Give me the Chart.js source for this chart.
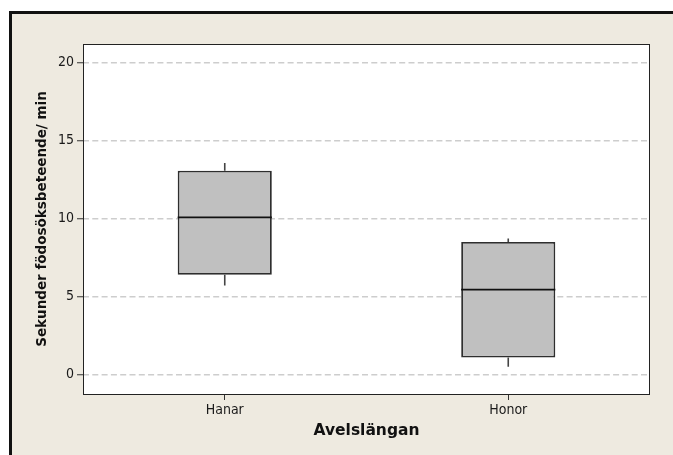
<!DOCTYPE html>
<html>
<head>
<meta charset="utf-8">
<script src="https://cdn.jsdelivr.net/npm/chart.js@4/dist/chart.umd.min.js"></script>
<style>
  html, body { margin: 0; padding: 0; background: #fff; }
  #wrap { width: 673px; height: 455px; }
</style>
</head>
<body>
<div id="wrap"><canvas id="boxChart" width="673" height="455"></canvas></div>
<script>
var categories = ['Hanar', 'Honor'];
var whiskerLow = [5.7, 0.5];
var q1 = [6.4, 1.1];
var median = [10.07, 5.44];
var q3 = [13.06, 8.5];
var whiskerHigh = [13.55, 8.72];
var yTicks = [0, 5, 10, 15, 20];

var boxes = categories.map(function (c, i) { return [q1[i], q3[i]]; });

// outer minitab-like frame behind everything
var framePlugin = {
  id: 'frame',
  beforeDraw: function (chart) {
    var ctx = chart.ctx;
    ctx.save();
    ctx.fillStyle = '#ffffff';
    ctx.fillRect(0, 0, chart.width, chart.height);
    ctx.fillStyle = '#eeeae0';
    ctx.fillRect(9, 11, chart.width - 9, chart.height - 11);
    ctx.fillStyle = '#111111';
    ctx.fillRect(9, 11, chart.width - 9, 3);
    ctx.fillRect(9, 11, 3, chart.height - 11);
    var a = chart.chartArea;
    ctx.fillStyle = '#ffffff';
    ctx.fillRect(a.left, a.top, a.right - a.left, a.bottom - a.top);
    ctx.restore();
  }
};

// whiskers, medians and plot border
var boxPlugin = {
  id: 'boxParts',
  afterDatasetsDraw: function (chart) {
    var ctx = chart.ctx;
    var x = chart.scales.x, y = chart.scales.y;
    var meta = chart.getDatasetMeta(0);
    ctx.save();
    categories.forEach(function (c, i) {
      var bar = meta.data[i];
      var cx = x.getPixelForValue(i);
      var half = bar.width / 2;
      ctx.strokeStyle = '#444444';
      ctx.lineWidth = 1.6;
      ctx.beginPath();
      ctx.moveTo(cx, y.getPixelForValue(q3[i]));
      ctx.lineTo(cx, y.getPixelForValue(whiskerHigh[i]));
      ctx.moveTo(cx, y.getPixelForValue(q1[i]));
      ctx.lineTo(cx, y.getPixelForValue(whiskerLow[i]));
      ctx.stroke();
      ctx.strokeStyle = '#111111';
      ctx.lineWidth = 1.6;
      ctx.beginPath();
      var my = y.getPixelForValue(median[i]);
      ctx.moveTo(cx - half, my);
      ctx.lineTo(cx + half, my);
      ctx.stroke();
    });
    var a = chart.chartArea;
    ctx.strokeStyle = '#222222';
    ctx.lineWidth = 1;
    ctx.strokeRect(a.left + 0.5, a.top + 0.5, a.right - a.left - 1, a.bottom - a.top);
    ctx.restore();
  }
};

var tickFont = { family: "'DejaVu Sans Condensed', 'DejaVu Sans'", size: 14 };

var data = {
  labels: categories,
  datasets: [
    {
      label: 'Box',
      data: boxes,
      backgroundColor: '#c0c0c0',
      borderColor: '#2e2e2e',
      borderWidth: 1.8,
      borderSkipped: false,
      barPercentage: 1,
      categoryPercentage: 0.332,
    },
  ],
};

var config = {
  type: 'bar',
  data: data,
  options: {
    responsive: false,
    animation: false,
    layout: { padding: { left: 0, top: 44, right: 23, bottom: 0 } },
    plugins: {
      legend: { display: false },
      tooltip: { enabled: false },
    },
    scales: {
      x: {
        afterFit: function (s) { s.height = 61; },
        grid: {
          offset: false,
          drawOnChartArea: false,
          drawTicks: true,
          tickLength: 6,
          tickColor: '#333333',
          tickWidth: 1,
        },
        border: { display: false },
        ticks: {
          color: '#1a1a1a',
          padding: 2,
          font: tickFont,
        },
        title: {
          display: true,
          text: 'Avelslängan',
          color: '#111111',
          font: { family: 'DejaVu Sans', size: 15.5, weight: 'bold' },
          padding: { top: 0, bottom: 15 },
        },
      },
      y: {
        min: -1.24,
        max: 21.17,
        afterFit: function (s) { s.width = 83; },
        afterBuildTicks: function (s) {
          s.ticks = yTicks.map(function (v) { return { value: v }; });
        },
        grid: {
          color: '#cdcdcd',
          lineWidth: 1.5,
          drawTicks: true,
          tickLength: 6,
          tickColor: '#333333',
          tickBorderDash: [],
          tickWidth: 1,
        },
        border: { display: false, dash: [6, 3.3] },
        ticks: {
          color: '#1a1a1a',
          padding: 3,
          font: tickFont,
        },
        title: {
          display: true,
          text: 'Sekunder födosöksbeteende/ min',
          color: '#111111',
          font: { family: 'DejaVu Sans', size: 13.5, weight: 'bold' },
          padding: { top: 34, bottom: 0 },
        },
      },
    },
  },
  plugins: [framePlugin, boxPlugin],
};

var myChart = new Chart(document.getElementById('boxChart'), config);
</script>
</body>
</html>
